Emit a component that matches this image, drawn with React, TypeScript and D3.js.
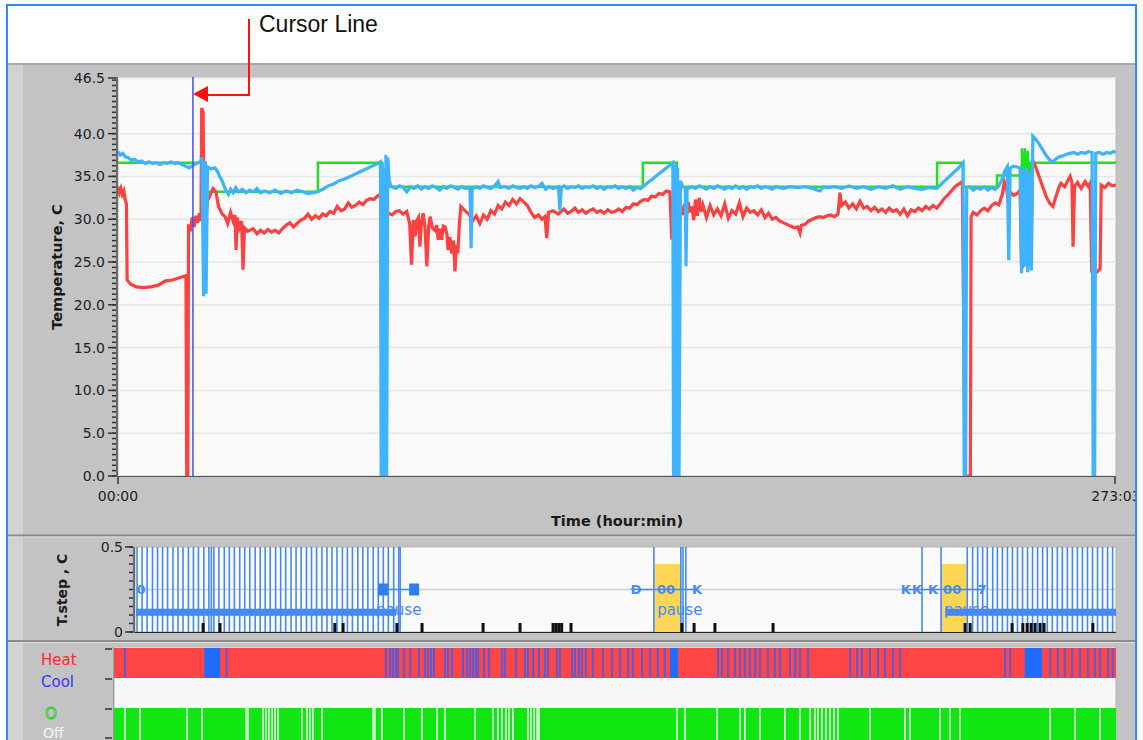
import React from 'react';
import * as d3 from 'd3';

const W = 1143;
const H = 740;
const timeMax = 273.05;

// ---------- main temperature chart ----------
const tempTicks = [0, 5, 10, 15, 20, 25, 30, 35, 40, 46.5];
const timeTickHours = [0, 273.05];
const timeTickLabels = ['00:00', '273:03'];
const cursorHour = 20.5;

const setpoint: [number, number][] = [
  [0, 36.6], [24.0, 36.6], [24.0, 33.2], [54.7, 33.2], [54.7, 36.6], [72.3, 36.6], [72.3, 33.8],
  [143.6, 33.8], [143.6, 36.6], [152.9, 36.6], [152.9, 33.8], [224.1, 33.8], [224.1, 36.6],
  [231.2, 36.6], [231.2, 33.8], [240.5, 33.8], [240.5, 35.1], [247.3, 35.1], [247.3, 38.3],
  [247.7, 33.2], [248.1, 38.3], [248.5, 33.2], [248.9, 38.0], [249.3, 33.2], [249.6, 36.6], [273.05, 36.6],
];

const measured: [number, number][] = [
  [0, 37.9], [0.6, 37.5], [1.3, 37.7], [2, 37.3], [2.8, 37.2], [3.6, 36.9], [4.5, 37.0], [5.5, 36.7], [6.5, 36.8],
  [7.5, 36.5], [8.5, 36.7], [9.5, 36.5], [10.5, 36.6], [11.5, 36.4], [12.5, 36.6], [13.5, 36.5], [14.5, 36.7],
  [15.5, 36.5], [16.5, 36.6], [17.5, 36.4], [18.5, 36.2], [19.5, 36.0], [20.5, 36.3], [21.5, 36.5], [22.5, 36.7],
  [23.0, 37.2], [23.4, 21.0], [23.8, 36.8], [24.1, 21.3], [24.5, 36.1],
  [25.5, 35.9], [26.5, 36.0], [27.2, 35.6], [27.8, 35.0], [28.5, 34.5], [29.0, 33.9], [29.6, 33.3], [30.2, 32.9],
  [30.8, 33.5], [31.5, 33.1], [32.2, 33.7], [33.0, 33.2], [34.0, 33.5], [35.0, 33.1], [36.0, 33.4], [37.0, 33.2],
  [38.0, 33.6], [39.0, 33.1], [40.0, 33.3], [41.5, 33.1], [43.0, 33.4], [44.5, 33.0], [46.0, 33.3], [47.5, 33.1],
  [49.0, 33.4], [50.5, 33.2], [52.0, 33.0], [53.5, 33.1], [54.7, 33.2], [56, 33.5], [57.5, 33.9], [59, 34.1],
  [60.5, 34.5], [62, 34.7], [63.5, 35.0], [65, 35.3], [66.5, 35.6], [68, 35.9], [69.5, 36.2], [71, 36.5], [71.8, 36.7],
  [72.0, 0], [72.3, 36.5], [72.5, 0], [72.8, 36.0], [73.0, 0], [73.3, 37.5], [73.5, 0], [73.8, 37.2],
  [74.2, 34.5], [74.8, 33.8], [76, 33.6], [77, 33.9], [78, 33.7], [79, 33.2], [80, 33.8], [81, 33.6], [82, 33.9],
  [83, 33.5], [84, 33.8], [85, 33.6], [86, 33.9], [87, 33.7], [88, 33.4], [89, 33.8], [90, 33.6], [91, 33.9],
  [92, 33.7], [93, 33.5], [94, 33.8], [95, 33.6], [96.3, 33.7], [96.6, 26.6], [96.9, 33.5], [98, 33.8], [99, 33.6],
  [100, 33.9], [101, 33.7], [102, 33.6], [103, 33.9], [104, 34.4], [104.5, 33.7], [106, 33.8], [107, 33.6],
  [108, 33.9], [109, 33.7], [110, 33.6], [111, 33.8], [112, 33.6], [113, 33.9], [114, 33.7], [115, 33.8],
  [116, 34.2], [117, 33.5], [118, 33.8], [119, 33.6], [120.5, 33.8], [120.9, 31.0], [121.3, 33.7], [122, 33.9],
  [123, 33.6], [124, 33.8], [125, 33.7], [126, 33.9], [127, 33.6], [128, 33.8], [129, 33.7], [130, 33.9],
  [131, 33.6], [132, 33.8], [133, 33.5], [134, 33.8], [135, 33.7], [136, 33.9], [137, 33.6], [138, 33.8],
  [139, 33.6], [140, 33.8], [141, 33.4], [142, 33.7], [143, 33.6], [143.6, 33.8],
  [145, 34.3], [146.5, 34.8], [148, 35.3], [149.5, 35.8], [151, 36.3], [151.8, 36.6],
  [152.0, 0], [152.4, 36.4], [152.7, 0], [153.1, 36.0], [153.5, 0], [153.9, 34.5], [154.5, 33.8], [155.2, 33.6],
  [155.4, 24.5], [155.7, 33.5], [157, 33.8], [158, 33.6], [159, 33.9], [160, 33.7], [161, 33.5], [162, 33.8],
  [163, 33.6], [164, 33.9], [165, 33.7], [166, 33.5], [167, 33.8], [168, 33.6], [169, 33.9], [170, 33.6],
  [171, 33.8], [172, 33.5], [173, 33.8], [174, 33.7], [175, 33.9], [176, 33.6], [177, 33.8], [178, 33.7],
  [179, 33.5], [180, 33.8], [182, 33.6], [184, 33.8], [186, 33.7], [188, 33.8], [190, 33.6], [192, 33.3],
  [193, 33.8], [194, 33.7], [196, 33.8], [198, 33.6], [200, 33.9], [202, 33.6], [204, 33.8], [206, 33.5],
  [208, 33.8], [210, 33.6], [212, 33.9], [214, 33.5], [216, 33.8], [218, 33.6], [220, 33.5], [222, 33.7],
  [224, 33.6], [225.5, 34.2], [227, 34.8], [228.5, 35.4], [230, 36.0], [231.2, 36.6],
  [231.5, 0], [231.9, 0], [232.2, 33.6], [233, 33.8], [234, 33.4], [235, 33.7], [236, 33.5], [237, 33.8],
  [238, 33.4], [239, 33.7], [240, 33.5], [241, 33.9], [241.8, 34.6], [242.6, 35.6], [243.3, 36.1], [243.7, 25.2],
  [244.1, 36.0], [245, 36.2], [246, 36.1], [246.8, 36.0], [247.2, 23.7], [247.6, 35.8], [248.0, 24.5],
  [248.5, 36.0], [248.9, 23.8], [249.4, 35.5], [249.9, 24.0], [250.3, 39.7], [251, 39.4], [252, 38.8],
  [253, 38.1], [254, 37.4], [255, 36.9], [255.8, 36.7], [256.5, 37.0], [257.5, 37.3], [258.5, 37.4],
  [259.5, 37.6], [260.5, 37.7], [261.5, 37.8], [262.5, 37.6], [263.5, 37.8], [264.5, 37.7], [265.5, 37.9],
  [266.5, 37.8], [266.8, 0], [267.2, 0], [267.5, 37.7], [268.5, 37.8], [269.5, 37.6], [270.5, 37.8],
  [271.5, 37.7], [272.3, 37.9], [273.05, 37.8],
];

const heater: [number, number][] = [
  [0, 33.8], [0.4, 33.1], [0.8, 33.6], [1.2, 32.9], [1.6, 33.3], [2.0, 32.2], [2.3, 31.8], [2.5, 22.9],
  [3.5, 22.4], [5, 22.1], [7, 22.0], [9, 22.1], [11, 22.3], [13, 22.8], [15, 22.9], [17, 23.2], [18.6, 23.4],
  [18.8, 0], [19.1, 0], [19.3, 29.4], [19.8, 28.6], [20.3, 30.2], [20.8, 29.1], [21.3, 30.4], [21.8, 29.6],
  [22.3, 30.7], [22.7, 29.8], [22.9, 43.0], [23.3, 42.5], [23.5, 29.0], [23.8, 21.5], [24.1, 30.5], [24.5, 32.2],
  [25.2, 32.8], [26, 33.6], [26.8, 33.2], [27.5, 31.5], [28.5, 30.6], [29.3, 30.3], [30, 29.5], [30.8, 30.8],
  [31.5, 29.8], [32.0, 30.5], [32.3, 26.4], [32.6, 30.2], [33.2, 29.0], [33.8, 29.8], [34.2, 24.1], [34.6, 29.0],
  [35.5, 28.6], [37, 28.9], [38, 28.3], [39, 28.7], [40, 28.4], [41, 28.8], [42, 28.5], [43, 28.7], [44, 28.4],
  [45, 28.9], [46, 29.3], [47, 29.6], [48, 29.1], [49, 29.5], [50, 29.9], [51, 30.1], [52, 30.6], [53, 30.0],
  [54, 30.4], [55, 30.1], [56, 30.6], [57, 30.4], [58, 30.9], [59, 30.7], [60, 31.5], [61, 31.0], [62, 31.2],
  [63, 31.9], [64, 31.4], [65, 31.6], [66, 32.0], [67, 31.7], [68, 32.2], [69, 32.4], [70, 32.3], [71, 32.7],
  [71.7, 32.9], [72.2, 33.5], [73.0, 31.0], [74, 30.7], [75, 30.5], [76, 30.9], [77, 31.0], [78, 30.6],
  [79, 30.9], [79.8, 29.5], [80.3, 24.7], [80.8, 29.9], [81.3, 28.0], [81.7, 29.8], [82.2, 30.2], [82.6, 26.8],
  [83.0, 29.6], [83.5, 30.7], [84.0, 29.0], [84.5, 24.5], [85.0, 29.2], [85.4, 30.3], [86, 29.0], [86.7, 28.7],
  [87.2, 29.3], [87.6, 27.6], [88.1, 28.9], [88.6, 27.6], [89.0, 29.2], [89.5, 29.1], [90.0, 28.2], [90.3, 26.4],
  [90.8, 27.9], [91.3, 26.0], [91.8, 27.5], [92.2, 23.9], [92.6, 27.0], [93.0, 26.0], [93.4, 29.5], [93.8, 31.5],
  [94.9, 31.0], [96, 30.6], [97, 29.8], [98, 30.4], [99, 29.5], [100, 30.5], [101, 30.0], [102, 31.0],
  [103, 30.6], [104, 31.6], [105, 31.2], [106, 32.0], [107, 31.6], [108, 32.3], [109, 31.8], [110, 32.4],
  [111, 32.0], [112, 31.6], [113, 30.8], [114, 30.2], [115, 30.5], [116, 30.0], [116.8, 30.3], [117.3, 27.8],
  [117.8, 30.8], [119, 31.0], [120.5, 30.6], [122, 31.2], [123, 30.7], [124, 30.9], [125, 31.3], [126, 30.8],
  [127, 31.1], [128, 30.7], [129, 31.0], [130, 31.2], [131, 30.8], [132, 31.0], [133, 30.7], [134, 31.1],
  [135, 30.8], [136, 30.9], [137, 31.2], [138, 30.9], [139, 31.4], [140, 31.3], [141, 31.8], [142, 31.7],
  [143, 32.1], [144, 32.3], [145, 32.2], [146, 32.7], [147, 32.6], [148, 33.0], [149, 32.9], [150, 33.3],
  [151, 33.2], [151.5, 27.6], [152, 32.9], [152.8, 30.5], [153.8, 31.5], [154.5, 30.5], [155, 31.8],
  [155.5, 30.2], [156, 32.0], [156.5, 30.8], [157, 31.5], [157.5, 29.9], [158, 32.3], [158.5, 30.4], [159, 32.5],
  [159.5, 30.9], [160, 31.7], [161, 30.2], [162, 31.6], [163, 30.5], [164, 31.2], [165, 30.4], [166, 31.8],
  [167, 30.1], [168, 31.0], [169, 30.6], [170, 31.9], [171, 30.3], [172, 31.3], [173, 30.8], [174, 31.0],
  [175, 30.5], [176, 31.1], [177, 30.2], [178, 30.7], [179, 30.0], [180, 30.2], [181, 29.8], [182, 29.6],
  [183, 29.4], [184, 29.2], [185, 29.0], [186, 29.1], [186.6, 28.4], [187, 29.3], [188, 29.4], [189, 29.8],
  [190, 30.0], [191, 30.2], [192, 30.3], [193, 30.2], [194, 30.4], [195, 30.5], [196, 30.3], [197, 30.6],
  [197.5, 33.1], [198, 31.6], [199, 32.0], [200, 31.3], [201, 31.8], [202, 31.2], [203, 32.1], [204, 31.3],
  [205, 31.5], [206, 31.0], [207, 31.4], [208, 30.9], [209, 31.2], [210, 30.8], [211, 31.3], [212, 30.9],
  [213, 31.1], [214, 30.6], [215, 31.2], [216, 30.4], [217, 31.1], [218, 30.9], [219, 31.3], [220, 31.0],
  [221, 31.5], [222, 31.2], [223, 31.6], [224, 31.3], [225, 31.8], [226, 32.4], [227, 32.8], [228, 33.3],
  [229, 33.8], [230, 34.1], [231, 34.4], [231.8, 0], [233.2, 0], [233.4, 30.3], [234, 30.8], [235, 30.5],
  [236, 31.0], [237, 31.3], [238, 31.0], [239, 31.6], [240, 31.9], [241, 31.7], [242, 33.0], [242.5, 34.4],
  [243, 33.9], [243.6, 32.0], [244, 33.2], [245, 32.8], [246, 33.0], [246.8, 33.4], [247.2, 24.7], [247.6, 33.0],
  [248.0, 24.7], [248.6, 25.0], [249, 24.6], [249.8, 25.0], [250.2, 36.9], [251, 36.2], [252, 35.0], [253, 33.8],
  [254, 32.6], [255, 31.8], [255.8, 31.5], [256.5, 32.5], [257.5, 33.8], [258, 34.2], [259, 33.8], [260, 34.6],
  [260.5, 35.0], [261, 34.3], [261.3, 26.8], [261.7, 33.8], [262.5, 34.3], [263.5, 33.6], [264.6, 34.4],
  [265.5, 33.8], [266, 34.2], [266.4, 23.9], [267, 23.6], [268, 23.9], [268.7, 24.2], [269, 34.0], [270, 33.7],
  [271, 34.2], [272, 33.9], [273.05, 34.0],
];

// ---------- T.step panel ----------
const stepTicks = [0, 0.5];
const stepTickLabels = ['0', '0.5'];
const stepLines = [
  0.3, 1.7, 3.1, 4.6, 6.0, 7.4, 8.8, 10.3, 11.7, 13.1, 14.6, 16.0, 17.4, 18.9, 20.3, 21.0, 21.7, 23.1, 24.6, 26.0,
  27.4, 28.9, 30.3, 31.7, 33.2, 34.6, 36.0, 37.4, 38.9, 40.3, 41.7, 43.2, 44.6, 46.0, 47.5, 48.9, 50.3, 51.8,
  53.2, 54.6, 56.0, 57.5, 58.9, 60.3, 61.8, 63.2, 64.6, 66.1, 67.5, 68.9, 70.3, 71.8, 73.2, 73.6,
  144.3, 151.8, 152.4, 153.2, 219.0, 224.3,
  231.6, 233.1, 234.5, 235.9, 237.2, 238.7, 240.0, 241.4, 242.8, 244.2, 245.6, 247.0, 248.4, 249.8, 251.2,
  252.6, 253.9, 255.3, 256.7, 258.1, 259.5, 260.9, 262.3, 263.7, 265.1, 266.5, 267.9, 269.3, 270.7, 272.1,
];
const stepBands: [number, number][] = [[0, 72.5], [225.5, 273.05]];
const pauseSpans: [number, number][] = [[144.4, 151.6], [224.3, 231.4]];
const pauseLabelHours = [66.9, 145.2, 225.1];
const markerHours = [1.4, 68.8, 77.5, 139.3, 147.7, 156.3, 214.5, 217.6, 222.1, 227.4, 235.7];
const markerLabels = ['0', 'sq', 'sq', 'Ð', '00', 'K', 'K', 'K', 'K', '00', '7'];
const markerLinks: [number, number][] = [[68.8, 77.5], [139.3, 156.3], [214.5, 235.7]];
const stopTicks = [
  18.7, 23.4, 55.4, 57.7, 72.7, 79.7, 96.7, 107.0, 116.2, 117.0, 117.8, 118.6, 121.2, 152.1, 155.5, 161.3,
  177.5, 231.0, 232.4, 244.1, 247.1, 248.3, 249.4, 250.5, 251.9, 253.0, 266.6,
];

// ---------- Heat/Cool and On/Off panel ----------
const coolStripes = [
  3.0, 30.7, 74.1, 75.2, 76.0, 76.8, 77.4, 79.0, 80.7, 83.1, 84.7, 85.6, 86.4, 87.2, 90.2, 91.0, 92.1, 95.1,
  96.2, 97.0, 97.8, 98.6, 99.2, 100.8, 102.2, 105.7, 106.5, 109.5, 112.0, 112.8, 114.2, 115.8, 117.4, 118.3,
  120.7, 121.5, 124.8, 125.6, 126.7, 127.5, 128.6, 130.5, 133.3, 135.7, 137.9, 140.1, 141.4, 143.9, 146.1,
  148.2, 150.1, 164.6, 165.7, 167.3, 169.2, 170.6, 171.9, 173.3, 174.7, 176.0, 178.2, 180.1, 181.5, 184.2,
  185.6, 186.9, 189.1, 200.6, 202.5, 203.8, 206.0, 208.2, 210.1, 212.3, 214.2, 242.8, 244.2, 255.1, 257.2,
  259.1, 261.1, 263.2, 265.4, 267.3, 268.7, 270.9, 272.2,
];
const coolBlocks: [number, number][] = [[24.6, 28.9], [151.5, 153.7], [248.2, 252.9]];
const offStripes = [
  3.0, 7.1, 19.9, 24.0, 36.0, 36.5, 40.6, 41.4, 42.2, 43.1, 43.9, 44.7, 51.2, 52.6, 53.4, 54.2, 56.7, 70.6,
  71.1, 73.0, 79.0, 83.9, 88.0, 90.2, 98.4, 103.3, 104.6, 105.7, 106.8, 107.6, 108.7, 112.8, 113.6, 114.5,
  115.3, 115.8, 153.4, 155.6, 164.3, 170.6, 171.9, 176.0, 182.8, 186.9, 189.7, 191.0, 191.8, 192.9, 194.0,
  195.1, 196.2, 197.3, 206.0, 215.5, 216.9, 225.1, 227.8, 230.5, 255.1, 261.9, 268.7,
];

const tickFont = 'DejaVu Sans, Verdana, sans-serif';

export default function App() {
  const x1 = d3.scaleLinear().domain([0, timeMax]).range([118, 1116]);
  const y1 = d3.scaleLinear().domain([0, 46.5]).range([476, 78]);
  const line1 = d3.line<[number, number]>().x((d) => x1(d[0])).y((d) => y1(d[1]));

  const x2 = d3.scaleLinear().domain([0, timeMax]).range([136, 1116]);
  const y2 = d3.scaleLinear().domain([0, 0.5]).range([632, 547]);

  const x3 = d3.scaleLinear().domain([0, timeMax]).range([114, 1116]);

  const minor1 = d3.range(0, 46.5, 0.625);
  const minor2 = d3.range(0, 0.5001, 0.05);

  const blueLine = '#3fb3ff';
  const stepBlue = '#4589f7';

  return (
    <svg width={W} height={H} style={{ position: 'absolute', left: 0, top: 0 }} fontFamily={tickFont}>
      <defs>
        <clipPath id="clipMain"><rect x={118} y={77} width={998} height={400} /></clipPath>
        <clipPath id="clipStep"><rect x={135} y={547} width={981} height={86} /></clipPath>
        <clipPath id="clipState"><rect x={114} y={647} width={1002} height={93} /></clipPath>
        <clipPath id="clipWin"><rect x={8} y={63} width={1127} height={677} /></clipPath>
      </defs>
      <rect x={0} y={0} width={W} height={H} fill="#ffffff" />

      {/* annotation */}
      <text x={259} y={32} fontFamily="Liberation Sans, Arial, sans-serif" fontSize={23} fill="#111">Cursor Line</text>

      {/* grey panels */}
      <g clipPath="url(#clipWin)">
        <rect x={8} y={63} width={1127} height={677} fill="#c3c3c3" />
        <rect x={8} y={63} width={15} height={677} fill="#d2d2d2" />
        <line x1={8} x2={1135} y1={64} y2={64} stroke="#a9a9a9" strokeWidth={2} />
        <line x1={8} x2={1135} y1={535.5} y2={535.5} stroke="#8a8a8a" strokeWidth={2} />
        <line x1={8} x2={1135} y1={537} y2={537} stroke="#dedede" strokeWidth={1} />
        <line x1={8} x2={1135} y1={641} y2={641} stroke="#8a8a8a" strokeWidth={2} />
        <line x1={8} x2={1135} y1={642.5} y2={642.5} stroke="#dedede" strokeWidth={1} />

        {/* ================= main chart ================= */}
        <rect x={118} y={77} width={998} height={399} fill="#f9f9f9" stroke="#b5b5b5" />
        {tempTicks.map((t) => (
          <line key={'g' + t} x1={118} x2={1116} y1={y1(t)} y2={y1(t)} stroke="#e6e6e6" strokeWidth={1.5} />
        ))}
        <g clipPath="url(#clipMain)" fill="none" strokeLinejoin="miter">
          <path d={line1(setpoint) || ''} stroke="#1ee21e" strokeWidth={2.5} />
          <path d={line1(heater) || ''} stroke="#ff4141" strokeWidth={3.2} />
          <path d={line1(measured) || ''} stroke={blueLine} strokeWidth={3.2} />
          <line x1={x1(cursorHour)} x2={x1(cursorHour)} y1={77} y2={476} stroke="#4a4aff" strokeWidth={1.5} />
        </g>
        <line x1={117} x2={117} y1={77} y2={477} stroke="#333" strokeWidth={1.2} />
        {minor1.map((t) => (
          <line key={'m' + t} x1={112} x2={116} y1={y1(t)} y2={y1(t)} stroke="#333" strokeWidth={1.5} />
        ))}
        {tempTicks.map((t) => (
          <g key={'t' + t}>
            <line x1={108} x2={116} y1={y1(t)} y2={y1(t)} stroke="#333" strokeWidth={1.5} />
            <text x={105} y={y1(t)} dy="0.36em" textAnchor="end" fontSize={14} fill="#1e1e1e">{t.toFixed(1)}</text>
          </g>
        ))}
        <text transform="translate(62,267) rotate(-90)" textAnchor="middle" fontSize={14.5} fontWeight="bold" fill="#1a1a1a">Temperature, C</text>
        <line x1={118} x2={1116} y1={476.5} y2={476.5} stroke="#555" strokeWidth={1} />
        {timeTickHours.map((t, i) => (
          <g key={'x' + i}>
            <line x1={x1(t) - (i === 1 ? 1 : 0)} x2={x1(t) - (i === 1 ? 1 : 0)} y1={477} y2={484} stroke="#333" strokeWidth={1.5} />
            <text x={x1(t)} y={501} textAnchor="middle" fontSize={14} fill="#1e1e1e">{timeTickLabels[i]}</text>
          </g>
        ))}
        <text x={617} y={526} textAnchor="middle" fontSize={14.5} fontWeight="bold" fill="#1a1a1a">Time (hour:min)</text>

        {/* ================= T.step panel ================= */}
        <rect x={135} y={547} width={981} height={85} fill="#fafafa" stroke="#b5b5b5" />
        <g clipPath="url(#clipStep)">
          {pauseSpans.map((p, i) => (
            <rect key={'p' + i} x={x2(p[0])} y={y2(0.4)} width={x2(p[1]) - x2(p[0])} height={y2(0) - y2(0.4)} fill="#fdd658" />
          ))}
          <line x1={135} x2={1116} y1={y2(0.25)} y2={y2(0.25)} stroke="#cfcfcf" strokeWidth={1.5} />
          {stepLines.map((t, i) => (
            <line key={'s' + i} x1={x2(t)} x2={x2(t)} y1={547} y2={632} stroke={stepBlue} strokeWidth={1.6} />
          ))}
          {stepBands.map((b, i) => (
            <g key={'b' + i}>
              <rect x={x2(b[0])} y={y2(0.137)} width={x2(b[1]) - x2(b[0])} height={7} fill={stepBlue} />
              <line x1={x2(b[0])} x2={x2(b[1])} y1={y2(0.1)} y2={y2(0.1)} stroke={stepBlue} strokeWidth={1.5} strokeDasharray="2 3" />
            </g>
          ))}
          {markerLinks.map((l, i) => (
            <line key={'l' + i} x1={x2(l[0])} x2={x2(l[1])} y1={y2(0.25)} y2={y2(0.25)} stroke={stepBlue} strokeWidth={1.5} />
          ))}
          {markerHours.map((t, i) =>
            markerLabels[i] === 'sq' ? (
              <rect key={'k' + i} x={x2(t) - 5} y={y2(0.25) - 6} width={10} height={12} fill="#2f7df5" />
            ) : (
              <text key={'k' + i} x={x2(t)} y={y2(0.25)} dy="0.36em" textAnchor="middle" fontSize={13} fontWeight="bold" fill={stepBlue}>{markerLabels[i]}</text>
            )
          )}
          {pauseLabelHours.map((t, i) => (
            <text key={'pl' + i} x={x2(t)} y={615} fontSize={15} fill={stepBlue}>pause</text>
          ))}
          {stopTicks.map((t, i) => (
            <rect key={'st' + i} x={x2(t) - 1.5} y={623} width={3} height={9} fill="#111" />
          ))}
        </g>
        <line x1={135} x2={1116} y1={632.5} y2={632.5} stroke="#222" strokeWidth={1.2} />
        <line x1={134} x2={134} y1={547} y2={633} stroke="#333" strokeWidth={1.2} />
        {minor2.map((t, i) => (
          <line key={'m2' + i} x1={129} x2={133} y1={y2(t)} y2={y2(t)} stroke="#333" strokeWidth={1.5} />
        ))}
        {stepTicks.map((t, i) => (
          <g key={'st2' + i}>
            <line x1={125} x2={133} y1={y2(t)} y2={y2(t)} stroke="#333" strokeWidth={1.5} />
            <text x={123} y={y2(t)} dy="0.36em" textAnchor="end" fontSize={14} fill="#1e1e1e">{stepTickLabels[i]}</text>
          </g>
        ))}
        <text transform="translate(67,590) rotate(-90)" textAnchor="middle" fontSize={14} fontWeight="bold" fill="#1a1a1a">T.step , C</text>

        {/* ================= Heat / Cool / On / Off panel ================= */}
        <rect x={114} y={647} width={1002} height={93} fill="#f8f8f8" stroke="#b5b5b5" />
        <g clipPath="url(#clipState)">
          <rect x={114} y={648} width={1002} height={30} fill="#ff4545" />
          {coolStripes.map((t, i) => (
            <line key={'c' + i} x1={x3(t)} x2={x3(t)} y1={648} y2={678} stroke="#5a5ad6" strokeWidth={2} />
          ))}
          {coolBlocks.map((b, i) => (
            <rect key={'cb' + i} x={x3(b[0])} y={648} width={x3(b[1]) - x3(b[0])} height={30} fill="#1f6cff" />
          ))}
          <rect x={114} y={708} width={1002} height={32} fill="#12e612" />
          {offStripes.map((t, i) => (
            <line key={'o' + i} x1={x3(t)} x2={x3(t)} y1={708} y2={740} stroke="#e4f7e4" strokeWidth={1.6} />
          ))}
        </g>
        {[649, 679, 709, 738].map((y) => (
          <line key={'ty' + y} x1={105} x2={112} y1={y} y2={y} stroke="#333" strokeWidth={1.5} />
        ))}
        <line x1={113.5} x2={113.5} y1={647} y2={740} stroke="#999" strokeWidth={1} />
        <text x={41} y={665} fontSize={15} fill="#ff2a2a">Heat</text>
        <text x={41} y={687} fontSize={15} fill="#3434ff">Cool</text>
        <text x={45} y={719} fontSize={15} fill="#ececec" stroke="#22cc22" strokeWidth={1}>O</text>
        <text x={43} y={738} fontSize={14} fill="#f6f6f6">Off</text>
      </g>

      {/* cursor annotation arrow */}
      <polyline points="249,19 249,95 207,95" fill="none" stroke="#ff1010" strokeWidth={2} />
      <polygon points="193,94 208,86 208,102" fill="#ff1010" />

      {/* outer frame */}
      <rect x={7} y={5} width={1129} height={745} fill="none" stroke="#2d8cff" strokeWidth={2} />
    </svg>
  );
}
